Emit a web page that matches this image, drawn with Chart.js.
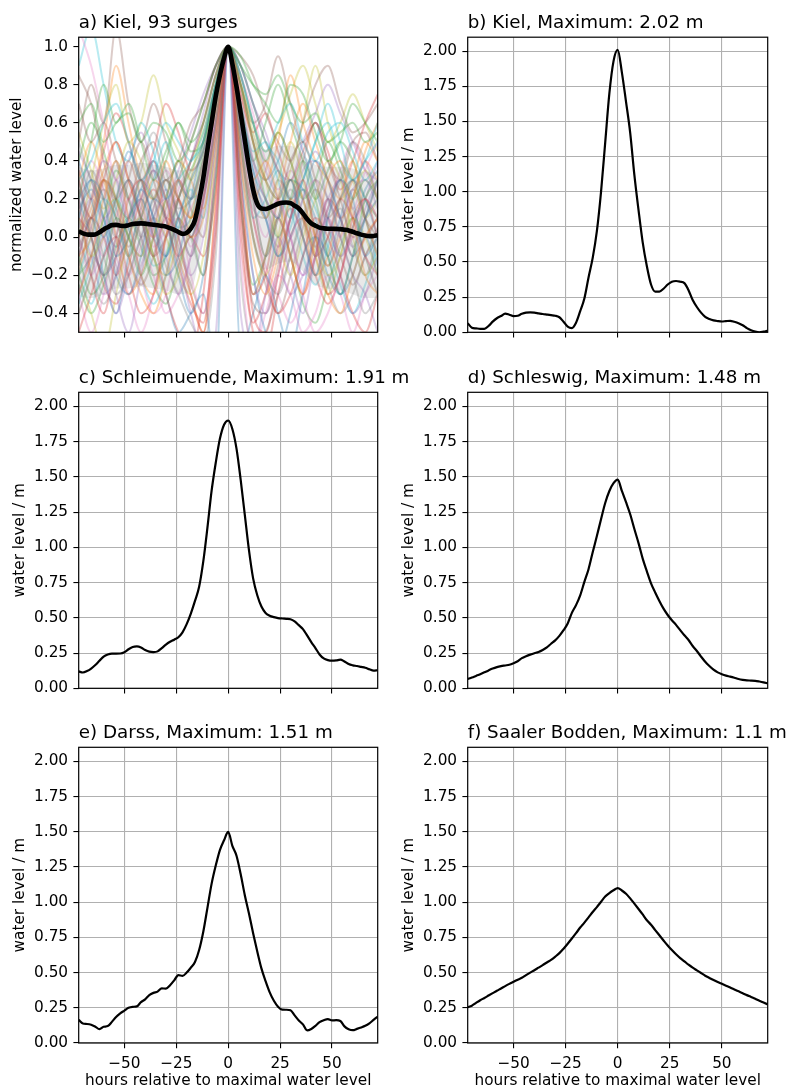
<!DOCTYPE html>
<html>
<head>
<meta charset="utf-8">
<script src="https://cdn.jsdelivr.net/npm/chart.js@4.4.1/dist/chart.umd.min.js"></script>
<style>
  body { margin: 0; background: #fff; width: 792px; height: 1090px; position: relative; overflow: hidden; }
  canvas { position: absolute; }
</style>
</head>
<body>
<script>
// hours relative to the maximal water level (2 h steps)
const hours = [-72,-70,-68,-66,-64,-62,-60,-58,-56,-54,-52,-50,
  -48,-46,-44,-42,-40,-38,-36,-34,-32,-30,-28,-26,
  -24,-22,-20,-18,-16,-14,-12,-10,-8,-6,-4,-2,
  0,
  2,4,6,8,10,12,14,16,18,20,22,24,
  26,28,30,32,34,36,38,40,42,44,46,48,
  50,52,54,56,58,60,62,64,66,68,70,72];

// a) mean of the normalized Kiel surges
const kielNorm = [0.03,0.02,0.014,0.013,0.014,0.025,0.04,0.052,0.063,0.064,0.06,0.058,
  0.063,0.069,0.071,0.072,0.071,0.068,0.065,0.062,0.059,0.055,0.047,0.038,
  0.027,0.017,0.022,0.045,0.09,0.19,0.31,0.46,0.6,0.74,0.85,0.94,
  1.0,
  0.91,0.79,0.65,0.51,0.37,0.25,0.175,0.15,0.148,0.155,0.165,0.175,
  0.18,0.182,0.178,0.165,0.15,0.125,0.095,0.072,0.06,0.05,0.046,0.044,
  0.044,0.043,0.042,0.039,0.035,0.028,0.02,0.013,0.008,0.005,0.006,0.01];

// b) - f) water level in m
const kiel = [0.064,0.033,0.028,0.025,0.025,0.045,0.076,0.1,0.116,0.133,0.125,0.115,
  0.118,0.132,0.14,0.142,0.14,0.135,0.13,0.126,0.122,0.118,0.107,0.075,
  0.04,0.03,0.068,0.15,0.24,0.39,0.53,0.72,1.0,1.35,1.7,1.93,
  2.01,
  1.85,1.64,1.42,1.12,0.87,0.64,0.47,0.34,0.29,0.29,0.31,0.34,
  0.36,0.365,0.36,0.35,0.3,0.23,0.18,0.14,0.11,0.095,0.085,0.08,
  0.077,0.08,0.082,0.075,0.065,0.05,0.03,0.015,0.005,0.0,0.005,0.012];

const schleimuende = [0.12,0.112,0.122,0.14,0.165,0.195,0.225,0.24,0.246,0.246,0.247,0.256,
  0.277,0.293,0.297,0.29,0.272,0.26,0.257,0.262,0.285,0.31,0.33,0.345,
  0.362,0.397,0.455,0.53,0.62,0.72,0.9,1.14,1.4,1.6,1.77,1.87,
  1.9,
  1.84,1.7,1.48,1.23,0.98,0.78,0.66,0.58,0.535,0.515,0.505,0.498,
  0.495,0.493,0.49,0.475,0.448,0.42,0.375,0.328,0.285,0.24,0.212,0.2,
  0.196,0.198,0.203,0.19,0.172,0.163,0.158,0.152,0.146,0.135,0.125,0.128];

const schleswig = [0.066,0.076,0.088,0.1,0.113,0.127,0.14,0.15,0.157,0.162,0.167,0.178,
  0.192,0.214,0.228,0.239,0.249,0.258,0.272,0.29,0.316,0.34,0.372,0.412,
  0.46,0.535,0.59,0.66,0.755,0.845,0.965,1.08,1.2,1.315,1.4,1.455,
  1.48,
  1.4,1.32,1.235,1.13,1.03,0.92,0.83,0.745,0.68,0.62,0.565,0.52,
  0.483,0.45,0.413,0.376,0.343,0.3,0.265,0.225,0.188,0.158,0.132,0.113,
  0.1,0.09,0.083,0.075,0.066,0.06,0.056,0.055,0.053,0.048,0.042,0.035];

const darss = [0.164,0.138,0.135,0.13,0.116,0.098,0.115,0.12,0.15,0.185,0.21,0.23,
  0.25,0.257,0.26,0.29,0.31,0.34,0.356,0.365,0.388,0.386,0.41,0.445,
  0.482,0.476,0.5,0.535,0.575,0.66,0.79,0.96,1.13,1.26,1.37,1.44,
  1.5,
  1.4,1.33,1.2,1.05,0.92,0.78,0.65,0.53,0.44,0.36,0.3,0.258,
  0.237,0.236,0.232,0.196,0.16,0.132,0.09,0.1,0.122,0.148,0.162,0.17,
  0.16,0.162,0.156,0.118,0.098,0.091,0.1,0.11,0.122,0.14,0.164,0.187];

const saalerBodden = [0.254,0.265,0.285,0.304,0.32,0.337,0.354,0.371,0.387,0.404,0.42,0.435,
  0.45,0.463,0.482,0.5,0.517,0.535,0.553,0.572,0.59,0.613,0.638,0.67,
  0.705,0.742,0.78,0.82,0.855,0.892,0.93,0.965,1.003,1.04,1.065,1.085,
  1.1,
  1.083,1.06,1.027,0.99,0.952,0.913,0.872,0.84,0.802,0.765,0.728,0.692,
  0.66,0.63,0.603,0.58,0.556,0.535,0.516,0.497,0.478,0.462,0.447,0.433,
  0.42,0.407,0.394,0.38,0.367,0.354,0.34,0.327,0.314,0.3,0.287,0.274];

// single normalized surges for panel a (6 h steps)
const surgeHours = [-72,-66,-60,-54,-48,-42,-36,-30,-24,-18,-12,-6,0,6,12,18,24,30,36,42,48,54,60,66,72];
const surges = [
  [0.1,0.3,0.2,-0.1,0.0,0.25,0.1,-0.2,-0.1,0.2,0.5,0.8, 1, 0.6,0.2,-0.1,0.1,0.3,0.0,-0.2,0.1,0.3,0.2,-0.1,0.0],
  [-0.3,-0.1,0.2,0.4,0.1,-0.2,-0.3,0.0,0.3,0.1,0.3,0.7, 1, 0.7,0.3,0.4,0.2,-0.1,-0.3,0.0,0.3,0.4,0.1,-0.2,-0.3],
  [0.6,0.7,0.5,0.6,0.65,0.5,0.6,0.55,0.4,0.5,0.7,0.9, 1, 0.9,0.8,0.75,0.85,0.7,0.6,0.65,0.5,0.55,0.6,0.5,0.55],
  [0.2,-0.2,-0.4,-0.1,0.2,0.3,0.0,-0.3,-0.5,-0.6,-0.3,0.4, 1, 0.2,-0.4,-0.5,-0.2,0.1,0.3,0.0,-0.3,-0.2,0.1,0.2,0.0],
  [-0.4,-0.2,0.0,-0.3,-0.5,-0.2,0.1,0.2,-0.1,-0.4,-0.6,-0.5, 1, -0.4,-0.6,-0.3,0.0,-0.2,-0.4,-0.1,0.1,-0.2,-0.4,-0.3,-0.1],
  [0.85,0.7,0.4,0.2,0.3,0.1,-0.1,0.0,0.2,0.4,0.6,0.85, 1, 0.8,0.5,0.3,0.2,0.4,0.5,0.3,0.1,0.2,0.3,0.1,0.0],
  [1.1,0.9,0.6,0.3,0.4,0.2,0.0,0.1,0.3,0.2,0.4,0.75, 1, 0.75,0.4,0.2,0.1,0.0,0.2,0.3,0.1,-0.1,0.0,0.2,0.1],
  [0.0,0.1,-0.1,-0.3,-0.2,0.0,0.2,0.3,0.1,-0.1,0.2,0.6, 1, 0.5,0.0,-0.2,-0.3,-0.1,0.1,0.3,0.2,0.0,-0.2,-0.4,-0.3],
  [-0.2,-0.4,-0.6,-0.3,0.0,0.1,-0.1,-0.3,-0.2,0.1,0.4,0.65, 1, 0.6,0.3,0.1,0.3,0.5,0.3,0.0,-0.2,-0.1,0.2,0.35,0.2],
  [0.3,0.4,0.6,0.7,0.5,0.3,0.4,0.6,0.5,0.4,0.55,0.8, 1, 0.85,0.6,0.45,0.6,0.7,0.5,0.4,0.55,0.6,0.45,0.3,0.4],
  [0.4,0.2,0.0,0.2,0.45,0.3,0.1,-0.1,0.1,0.3,0.45,0.7, 1, 0.65,0.35,0.1,-0.1,0.0,0.2,0.4,0.3,0.1,-0.1,0.1,0.3],
  [-0.1,0.0,0.3,0.2,-0.1,-0.3,-0.4,-0.2,0.1,0.0,0.1,0.55, 1, 0.4,-0.1,-0.3,-0.1,0.2,0.1,-0.1,-0.3,-0.4,-0.2,0.0,0.1],
  [0.2,0.5,0.8,0.6,0.7,0.5,0.3,0.45,0.6,0.5,0.6,0.85, 1, 0.95,0.8,0.7,0.6,0.8,0.75,0.55,0.4,0.5,0.7,0.6,0.5],
  [-0.5,-0.3,-0.1,0.0,-0.2,-0.4,-0.3,0.0,0.2,0.0,0.2,0.6, 1, 0.45,0.1,-0.2,-0.4,-0.3,-0.1,0.1,0.0,-0.2,-0.4,-0.5,-0.3],
  [0.0,0.2,0.4,0.3,0.1,0.2,0.35,0.2,0.0,-0.2,0.0,0.5, 1, 0.3,-0.2,-0.4,-0.2,0.1,0.35,0.4,0.2,0.1,0.25,0.3,0.15],
  [0.3,0.0,-0.2,0.0,0.3,0.5,0.3,0.1,0.3,0.5,0.7,0.9, 1, 0.9,0.7,0.5,0.35,0.2,0.4,0.6,0.4,0.2,0.0,0.1,0.3],
  [-0.3,-0.5,-0.3,0.0,0.2,0.0,-0.2,-0.4,-0.3,-0.1,0.2,0.6, 1, 0.6,0.2,0.0,0.2,0.0,-0.3,-0.5,-0.4,-0.2,0.0,-0.1,-0.3],
  [0.5,0.3,0.2,0.4,0.2,0.0,0.1,0.3,0.2,0.0,-0.2,0.3, 1, 0.2,-0.3,-0.1,0.2,0.3,0.1,-0.1,0.1,0.3,0.5,0.4,0.2],
  [0.1,-0.1,0.0,0.2,0.4,0.2,-0.1,-0.2,0.0,0.3,0.6,0.85, 1, 0.8,0.55,0.3,0.0,-0.2,0.0,0.2,0.4,0.3,0.0,-0.2,-0.1],
  [-0.2,0.0,0.2,0.1,-0.1,0.1,0.3,0.5,0.3,0.2,0.4,0.7, 1, 0.7,0.45,0.5,0.3,0.1,0.3,0.5,0.7,0.5,0.3,0.4,0.5],
  [0.2,0.3,0.1,-0.2,-0.3,-0.1,0.2,0.1,-0.2,-0.4,-0.2,0.35, 1, 0.35,-0.2,-0.5,-0.6,-0.4,-0.1,0.0,-0.2,-0.3,-0.1,0.1,0.2],
  [0.0,0.2,0.5,0.9,0.6,0.3,0.2,0.4,0.2,0.1,0.3,0.7, 1, 0.75,0.5,0.3,0.5,0.85,0.6,0.4,0.3,0.2,0.3,0.5,0.4],
  [-0.1,-0.3,-0.2,0.1,0.0,-0.2,0.0,0.2,0.4,0.2,0.45,0.8, 1, 0.8,0.5,0.2,0.0,0.2,0.4,0.2,-0.1,-0.3,-0.1,0.2,0.3],
  [0.3,0.1,0.3,0.5,0.3,0.1,-0.1,0.1,0.0,-0.3,-0.5,0.0, 1, 0.0,-0.5,-0.6,-0.3,0.0,0.1,-0.1,0.0,0.2,0.1,-0.1,-0.2],
  [-0.3,-0.1,-0.2,-0.4,-0.2,0.0,0.1,-0.1,-0.3,-0.1,0.2,0.55, 1, 0.55,0.25,0.1,-0.1,-0.3,-0.2,0.0,0.2,0.0,-0.2,-0.3,-0.5],
  [0.7,0.5,0.6,0.4,0.2,0.4,0.5,0.3,0.4,0.6,0.7,0.9, 1, 0.95,0.85,0.65,0.5,0.4,0.6,0.8,0.9,0.7,0.55,0.6,0.7],
  [0.0,-0.2,0.0,0.3,0.1,-0.2,-0.4,-0.3,0.0,0.15,0.3,0.65, 1, 0.6,0.3,0.1,0.2,0.0,-0.2,-0.1,0.1,0.0,0.2,0.4,0.2],
  [0.1,0.35,0.2,0.0,0.1,0.35,0.55,0.35,0.15,0.2,0.4,0.7, 1, 0.55,0.15,0.1,0.3,0.2,0.0,-0.2,0.0,0.15,-0.05,-0.2,0.0],
  [-0.4,-0.2,0.1,0.2,0.0,-0.1,0.1,0.0,-0.2,-0.3,-0.1,0.45, 1, 0.5,0.0,-0.2,0.0,0.3,0.2,-0.1,-0.3,-0.1,0.1,0.0,-0.2],
  [0.9,1.1,0.8,0.5,0.4,0.6,0.45,0.2,0.3,0.4,0.5,0.8, 1, 0.9,0.7,0.5,0.4,0.2,0.3,0.5,0.6,0.4,0.3,0.4,0.6],
  [0.2,0.0,-0.2,-0.1,0.1,0.2,0.0,-0.1,0.1,0.0,0.3,0.75, 1, 0.7,0.35,0.2,0.1,0.3,0.25,0.1,-0.1,0.1,0.3,0.2,0.0],
  [-0.2,0.1,0.3,0.0,-0.3,-0.2,0.0,0.3,0.2,0.1,0.35,0.75, 1, 0.65,0.2,-0.1,0.1,0.3,0.1,-0.2,-0.1,0.2,0.4,0.1,-0.1],
  [0.4,0.6,0.45,0.2,0.1,0.3,0.2,0.4,0.6,0.45,0.5,0.8, 1, 0.85,0.6,0.4,0.55,0.4,0.2,0.3,0.5,0.35,0.2,0.3,0.2],
  [-0.1,0.1,0.0,-0.2,0.0,0.2,0.4,0.1,-0.1,0.0,-0.1,0.25, 1, 0.3,-0.3,-0.2,0.1,-0.1,-0.3,-0.1,0.2,0.1,-0.1,0.0,0.1],
  [0.1,-0.1,-0.3,-0.2,0.1,0.3,0.2,0.0,0.2,0.4,0.65,0.9, 1, 0.85,0.6,0.35,0.2,0.0,-0.2,0.0,0.2,0.3,0.1,0.2,0.4],
  [0.5,0.8,0.6,1.1,0.7,0.5,0.7,0.5,0.3,0.2,0.4,0.75, 1, 0.8,0.6,0.7,0.95,0.7,0.5,0.6,0.4,0.3,0.5,0.55,0.4],
  [-0.3,-0.1,0.1,-0.1,-0.3,-0.5,-0.3,0.0,0.1,-0.2,-0.4,0.1, 1, -0.1,-0.6,-0.4,-0.2,-0.3,-0.5,-0.4,-0.2,-0.3,-0.5,-0.3,-0.2],
  [0.25,0.1,0.3,0.2,0.0,-0.1,0.15,0.3,0.1,0.0,0.25,0.7, 1, 0.7,0.4,0.2,0.1,0.25,0.1,-0.05,0.15,0.3,0.15,0.0,0.1],
  [0.0,0.3,0.6,0.8,0.5,0.6,0.85,0.6,0.45,0.3,0.5,0.8, 1, 0.8,0.5,0.3,0.2,0.35,0.6,0.9,0.6,0.4,0.3,0.1,0.2],
  [-0.2,-0.35,-0.1,0.15,0.3,0.1,-0.15,-0.1,0.1,0.25,0.1,0.6, 1, 0.5,0.1,0.2,0.35,0.15,-0.1,-0.25,-0.05,0.2,0.3,0.1,-0.15],
  [-0.1,0.1,-0.2,-0.4,-0.1,0.1,-0.1,-0.3,-0.5,-0.4,-0.3,-0.7, 1, -0.6,-0.4,-0.2,-0.4,-0.6,-0.3,0.0,-0.1,-0.3,-0.2,0.0,-0.2],
  [0.3,0.5,0.3,0.1,-0.1,0.1,0.3,0.2,-0.1,-0.3,-0.5,0.2, 1, 0.3,-0.3,-0.1,0.2,0.5,0.7,0.5,0.3,0.1,0.2,0.4,0.3],
  [-0.2,-0.1,0.1,0.35,0.2,0.0,-0.2,-0.1,0.2,0.35,0.5,0.75, 1, 0.7,0.4,0.6,0.8,0.6,0.4,0.2,0.35,0.5,0.4,0.2,0.1],
  [0.1,0.0,-0.25,-0.35,-0.15,0.1,0.25,0.1,-0.15,-0.35,-0.45,0.15, 1, 0.1,-0.45,-0.3,-0.05,0.15,0.0,-0.2,-0.35,-0.2,0.05,0.2,0.1],
  [0.45,0.3,0.1,0.2,0.4,0.55,0.35,0.2,0.35,0.55,0.75,0.9, 1, 0.9,0.7,0.55,0.35,0.3,0.5,0.65,0.8,0.65,0.5,0.35,0.3],
  [-0.15,0.05,0.25,0.1,-0.1,-0.25,-0.1,0.15,0.3,0.15,0.0,0.5, 1, 0.4,0.0,-0.25,-0.4,-0.2,0.05,0.25,0.1,-0.1,-0.25,-0.1,0.05],
  [0.2,0.4,0.25,0.0,-0.2,-0.05,0.15,0.35,0.2,-0.05,0.2,0.65, 1, 0.55,0.1,-0.15,-0.3,-0.45,-0.3,-0.1,0.15,0.3,0.15,0.35,0.5],
  [0.0,-0.2,-0.35,-0.2,0.05,0.2,0.05,-0.15,-0.3,-0.45,-0.55,-0.1, 1, -0.2,-0.55,-0.5,-0.3,-0.1,0.1,-0.05,-0.25,-0.4,-0.3,-0.1,0.0],
  [0.55,0.35,0.15,0.3,0.5,0.4,0.2,0.05,0.2,0.4,0.55,0.8, 1, 0.8,0.6,0.45,0.55,0.75,0.9,0.7,0.5,0.6,0.75,0.6,0.45],
  [-0.35,-0.15,0.05,0.2,0.05,-0.2,-0.35,-0.2,0.05,0.2,0.25,0.6, 1, 0.6,0.25,0.1,-0.1,0.05,0.25,0.15,-0.05,-0.25,-0.4,-0.25,-0.05],
  [0.15,0.25,0.1,-0.05,0.1,0.25,0.4,0.25,0.05,0.1,0.35,0.7, 1, 0.65,0.4,0.3,0.4,0.6,0.45,0.25,0.05,-0.1,0.05,0.25,0.35],
  [0.0,0.15,0.35,0.5,0.3,0.1,0.0,0.2,0.4,0.3,0.15,0.55, 1, 0.5,0.2,0.35,0.55,0.4,0.2,0.0,-0.15,0.0,0.2,0.45,0.6],
  [-0.25,-0.4,-0.25,-0.05,0.1,-0.05,-0.25,-0.35,-0.15,0.0,-0.2,0.3, 1, 0.2,-0.25,-0.1,0.1,-0.1,-0.35,-0.45,-0.25,-0.05,0.1,-0.1,-0.3],
  [0.35,0.2,0.45,0.65,0.5,0.3,0.45,0.7,0.55,0.35,0.45,0.75, 1, 0.75,0.55,0.65,0.45,0.3,0.45,0.6,0.45,0.25,0.4,0.6,0.75],
  [0.05,0.2,0.05,-0.15,-0.3,-0.15,0.05,0.25,0.1,-0.1,0.15,0.65, 1, 0.6,0.3,0.15,-0.05,0.1,0.3,0.45,0.3,0.1,-0.05,0.15,0.3],
  [-0.05,0.1,0.3,0.15,-0.05,0.15,0.35,0.2,-0.05,-0.25,-0.4,0.05, 1, 0.15,-0.35,-0.4,-0.15,0.1,0.25,0.05,-0.15,0.05,0.25,0.1,-0.1],
  [0.25,0.05,-0.1,0.1,0.3,0.15,-0.05,0.05,0.25,0.4,0.6,0.85, 1, 0.85,0.65,0.4,0.25,0.35,0.2,0.0,0.15,0.35,0.5,0.35,0.2]
];
// grey band around the mean (6 h steps)
const bandUpper = [0.37,0.35,0.36,0.38,0.38,0.39,0.38,0.37,0.35,0.36,0.55,0.88,1.0,0.85,0.55,0.46,0.48,0.48,0.43,0.38,0.37,0.37,0.36,0.34,0.34];
const bandLower = [-0.31,-0.32,-0.3,-0.27,-0.27,-0.26,-0.27,-0.28,-0.3,-0.28,0.05,0.6,1.0,0.45,-0.05,-0.17,-0.14,-0.13,-0.18,-0.25,-0.27,-0.28,-0.3,-0.32,-0.32];

// axis ticks
const xTicks = [-50, -25, 0, 25, 50];
const yTicksNorm = [-0.4, -0.2, 0.0, 0.2, 0.4, 0.6, 0.8, 1.0];
const yTicksLevel = [0, 0.25, 0.5, 0.75, 1.0, 1.25, 1.5, 1.75, 2.0];

const tab10 = ['#1f77b4','#ff7f0e','#2ca02c','#d62728','#9467bd','#8c564b','#e377c2','#7f7f7f','#bcbd22','#17becf'];

Chart.defaults.font.family = '"DejaVu Sans", sans-serif';

function pts(xs, ys) {
  return xs.map((x, i) => ({ x: x, y: ys[i] }));
}
function fmt(v, d) {
  return v.toFixed(d).replace('-', '\u2212');
}
function hexA(hex, a) {
  let r = parseInt(hex.slice(1, 3), 16), g = parseInt(hex.slice(3, 5), 16), b = parseInt(hex.slice(5, 7), 16);
  return 'rgba(' + r + ',' + g + ',' + b + ',' + a + ')';
}

// draws the frame, panel title and axis labels relative to the chart area
const panelText = {
  id: 'panelText',
  afterDatasetsDraw(chart, args, o) {
    const ctx = chart.ctx, a = chart.chartArea;
    ctx.save();
    ctx.strokeStyle = '#000';
    ctx.lineWidth = 1.2;
    ctx.strokeRect(a.left, a.top, a.right - a.left, a.bottom - a.top);
    ctx.fillStyle = '#000';
    ctx.font = '18.3px "DejaVu Sans"';
    ctx.textAlign = 'left';
    ctx.textBaseline = 'alphabetic';
    ctx.fillText(o.title, a.left, a.top - 9.2);
    ctx.font = '15.3px "DejaVu Sans"';
    ctx.textAlign = 'center';
    ctx.textBaseline = 'middle';
    if (o.xlabel) ctx.fillText(o.xlabel, (a.left + a.right) / 2, a.bottom + 38.5);
    ctx.translate(a.left - o.ylabelGap, (a.top + a.bottom) / 2);
    ctx.rotate(-Math.PI / 2);
    ctx.fillText(o.ylabel, 0, 0);
    ctx.restore();
  }
};

const cols = [
  { x: 0, w: 440, yw: 78.7, padR: 440 - 377.7 },
  { x: 395, w: 397, yw: 72.7, padR: 397 - 372.7 }
];
const rows = [
  { y: 0, h: 370, padT: 37.2, xh: 370 - 332.3 },
  { y: 370, h: 350, padT: 22.3, xh: 350 - 318.3 },
  { y: 720, h: 370, padT: 27.3, xh: 370 - 323 }
];

function makePanel(p) {
  const col = cols[p.col], row = rows[p.row];
  const cv = document.createElement('canvas');
  cv.width = col.w;
  cv.height = row.h;
  cv.style.left = col.x + 'px';
  cv.style.top = row.y + 'px';
  document.body.appendChild(cv);
  const showX = p.row === 2;
  new Chart(cv, {
    type: 'line',
    data: { datasets: p.datasets },
    options: {
      responsive: false,
      animation: false,
      events: [],
      layout: { padding: { left: 0, right: col.padR, top: row.padT, bottom: 0 } },
      elements: { point: { radius: 0 }, line: { cubicInterpolationMode: 'monotone' } },
      plugins: {
        legend: { display: false },
        tooltip: { enabled: false },
        panelText: { title: p.title, ylabel: p.ylabel, ylabelGap: p.ylabelGap,
                     xlabel: showX ? 'hours relative to maximal water level' : '' }
      },
      scales: {
        x: {
          type: 'linear', min: -72, max: 72,
          afterBuildTicks: s => { s.ticks = xTicks.map(v => ({ value: v })); },
          afterFit: s => { s.height = row.xh; },
          border: { display: false },
          grid: { drawOnChartArea: p.grid, color: '#b0b0b0', lineWidth: 1.1,
                  tickColor: '#000', tickWidth: 1.1, tickLength: 5.3 },
          ticks: { autoSkip: false, maxRotation: 0, padding: 6.5, color: '#000', font: { size: 15.3 },
                   callback: v => showX ? fmt(v, 0) : '' }
        },
        y: {
          type: 'linear', min: p.ymin, max: p.ymax,
          afterBuildTicks: s => { s.ticks = p.yTicks.map(v => ({ value: v })); },
          afterFit: s => { s.width = col.yw; },
          border: { display: false },
          grid: { drawOnChartArea: p.grid, color: '#b0b0b0', lineWidth: 1.1,
                  tickColor: '#000', tickWidth: 1.1, tickLength: 5.3 },
          ticks: { padding: 5.3, color: '#000', font: { size: 15.3 },
                   callback: v => fmt(v, p.yDigits) }
        }
      }
    },
    plugins: [panelText]
  });
}

// panel a: single surges, grey band and the mean
const surgeSets = surges.map((s, i) => ({
  data: pts(surgeHours, s),
  borderColor: hexA(tab10[i % 10], 0.3),
  borderWidth: 2,
  fill: false,
  order: 3
}));
const aSets = [
  { data: pts(hours, kielNorm), borderColor: '#000', borderWidth: 4.6, fill: false, order: 0 },
  { data: pts(surgeHours, bandUpper), borderWidth: 0, borderColor: 'rgba(0,0,0,0)',
    backgroundColor: 'rgba(140,140,140,0.2)', fill: '+1', order: 1 },
  { data: pts(surgeHours, bandLower), borderWidth: 0, borderColor: 'rgba(0,0,0,0)', fill: false, order: 2 }
].concat(surgeSets);

function levelSet(values) {
  return [{ data: pts(hours, values), borderColor: '#000', borderWidth: 2.2, fill: false }];
}

makePanel({ col: 0, row: 0, title: 'a) Kiel, 93 surges', ylabel: 'normalized water level', ylabelGap: 61.4,
  grid: false, ymin: -0.5, ymax: 1.05, yTicks: yTicksNorm, yDigits: 1, datasets: aSets });
makePanel({ col: 1, row: 0, title: 'b) Kiel, Maximum: 2.02 m', ylabel: 'water level / m', ylabelGap: 58.7,
  grid: true, ymin: 0, ymax: 2.1, yTicks: yTicksLevel, yDigits: 2, datasets: levelSet(kiel) });
makePanel({ col: 0, row: 1, title: 'c) Schleimuende, Maximum: 1.91 m', ylabel: 'water level / m', ylabelGap: 58.7,
  grid: true, ymin: 0, ymax: 2.1, yTicks: yTicksLevel, yDigits: 2, datasets: levelSet(schleimuende) });
makePanel({ col: 1, row: 1, title: 'd) Schleswig, Maximum: 1.48 m', ylabel: 'water level / m', ylabelGap: 58.7,
  grid: true, ymin: 0, ymax: 2.1, yTicks: yTicksLevel, yDigits: 2, datasets: levelSet(schleswig) });
makePanel({ col: 0, row: 2, title: 'e) Darss, Maximum: 1.51 m', ylabel: 'water level / m', ylabelGap: 58.7,
  grid: true, ymin: 0, ymax: 2.1, yTicks: yTicksLevel, yDigits: 2, datasets: levelSet(darss) });
makePanel({ col: 1, row: 2, title: 'f) Saaler Bodden, Maximum: 1.1 m', ylabel: 'water level / m', ylabelGap: 58.7,
  grid: true, ymin: 0, ymax: 2.1, yTicks: yTicksLevel, yDigits: 2, datasets: levelSet(saalerBodden) });
</script>
</body>
</html>
